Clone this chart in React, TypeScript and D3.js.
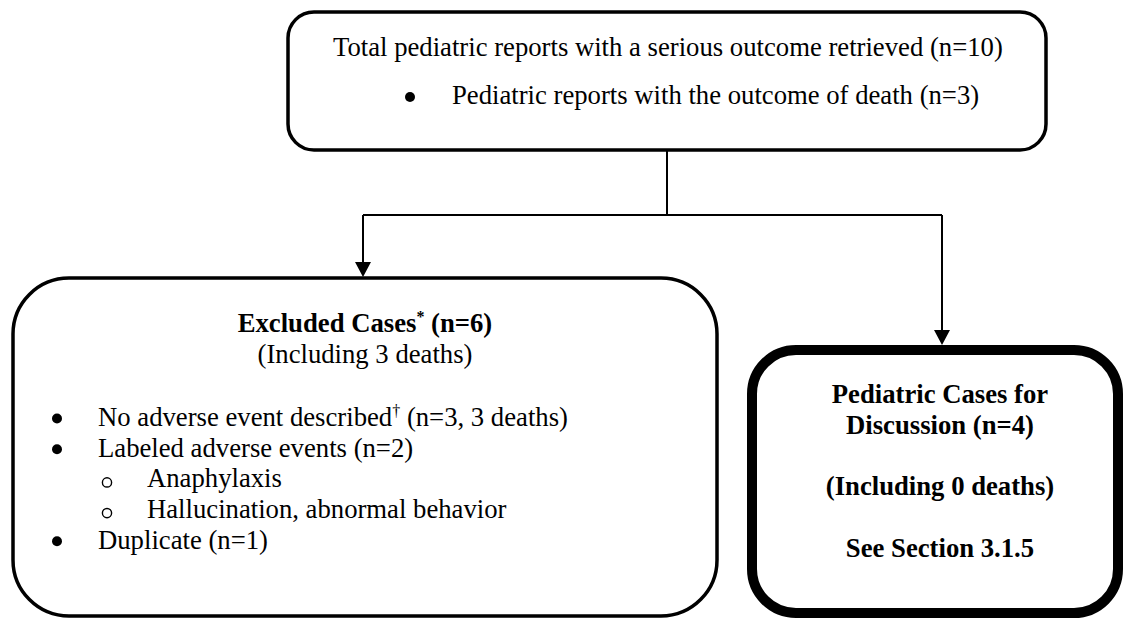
import React, { useEffect, useRef } from "react";
import * as d3 from "d3";

// flowchart content
const topLines = ["Total pediatric reports with a serious outcome retrieved (n=10)"];
const topBullets = ["Pediatric reports with the outcome of death (n=3)"];

const excludedHead = ["Excluded Cases", "*", " (n=6)"];
const excludedSub = ["(Including 3 deaths)"];
const excludedLevels = [1, 1, 2, 2, 1];
const excludedItems = [
  ["No adverse event described", "\u2020", " (n=3, 3 deaths)"],
  ["Labeled adverse events (n=2)"],
  ["Anaphylaxis"],
  ["Hallucination, abnormal behavior"],
  ["Duplicate (n=1)"],
];

const discussionLines = ["Pediatric Cases for", "Discussion (n=4)", "(Including 0 deaths)", "See Section 3.1.5"];
// line slots, blank lines between the paragraphs
const discussionRows = [0, 1, 3, 5];

const W = 1124;
const H = 619;
const FONT = "'Liberation Serif', 'Times New Roman', Times, serif";
const FS = 26.7;
const LH = 30.7;

const App: React.FC = () => {
  const svgRef = useRef<SVGSVGElement>(null);

  useEffect(() => {
    const svg = d3.select(svgRef.current);
    svg.selectAll("*").remove();

    svg.append("rect").attr("width", W).attr("height", H).attr("fill", "#fff");

    // boxes: top, excluded, discussion
    const boxes = [
      { x0: 288, y0: 12, x1: 1046, y1: 150, r: 26, sw: 3.5 },
      { x0: 13, y0: 278, x1: 717, y1: 616, r: 56, sw: 3.5 },
      { x0: 752, y0: 350, x1: 1118, y1: 613, r: 44, sw: 10 },
    ];

    svg.selectAll("rect.box")
      .data(boxes)
      .join("rect")
      .attr("class", "box")
      .attr("x", d => d.x0)
      .attr("y", d => d.y0)
      .attr("width", d => d.x1 - d.x0)
      .attr("height", d => d.y1 - d.y0)
      .attr("rx", d => d.r)
      .attr("ry", d => d.r)
      .attr("fill", "none")
      .attr("stroke", "#000")
      .attr("stroke-width", d => d.sw);

    // connectors
    const stemX = 667;
    const splitY = 215;
    const leftX = 363;
    const rightX = 942;
    const headH = 15;
    const headW = 8;

    const p = d3.path();
    p.moveTo(stemX, boxes[0].y1);
    p.lineTo(stemX, splitY);
    p.moveTo(leftX, splitY);
    p.lineTo(rightX, splitY);
    p.moveTo(leftX, splitY);
    p.lineTo(leftX, boxes[1].y0 - headH);
    p.moveTo(rightX, splitY);
    p.lineTo(rightX, boxes[2].y0 - 5 - headH);
    svg.append("path")
      .attr("d", p.toString())
      .attr("fill", "none")
      .attr("stroke", "#000")
      .attr("stroke-width", 2);

    const tips: [number, number][] = [
      [leftX, boxes[1].y0 - 1],
      [rightX, boxes[2].y0 - 5],
    ];
    tips.forEach(([tx, ty]) => {
      const a = d3.path();
      a.moveTo(tx, ty);
      a.lineTo(tx - headW, ty - headH);
      a.lineTo(tx + headW, ty - headH);
      a.closePath();
      svg.append("path").attr("d", a.toString()).attr("fill", "#000");
    });

    const addText = (
      x: number,
      y: number,
      parts: string[],
      anchor: string,
      weight: string
    ) => {
      const t = svg.append("text")
        .attr("x", x)
        .attr("y", y)
        .attr("text-anchor", anchor)
        .attr("font-family", FONT)
        .attr("font-size", FS)
        .attr("font-weight", weight)
        .attr("fill", "#000");
      t.append("tspan").text(parts[0]);
      if (parts.length > 1) {
        t.append("tspan")
          .attr("font-size", FS * 0.6)
          .attr("dy", -10)
          .text(parts[1]);
        t.append("tspan").attr("dy", 10).text(parts[2]);
      }
      return t;
    };

    // top box
    topLines.forEach((s, i) => addText(333, 56 + i * LH, [s], "start", "normal"));
    topBullets.forEach((s, i) => {
      const y = 104 + i * LH;
      svg.append("circle").attr("cx", 410).attr("cy", y - 7).attr("r", 5).attr("fill", "#000");
      addText(452, y, [s], "start", "normal");
    });

    // excluded box
    const exCx = 365;
    addText(exCx, 332, excludedHead, "middle", "bold");
    excludedSub.forEach((s, i) => addText(exCx, 363 + i * LH, [s], "middle", "normal"));

    const rowY = d3.scaleLinear().domain([0, 1]).range([426, 426 + LH]);
    excludedItems.forEach((parts, i) => {
      const y = rowY(i);
      if (excludedLevels[i] === 1) {
        svg.append("circle").attr("cx", 57).attr("cy", y - 7.5).attr("r", 5).attr("fill", "#000");
        addText(98, y, parts, "start", "normal");
      } else {
        svg.append("circle")
          .attr("cx", 107)
          .attr("cy", y - 5)
          .attr("r", 4.6)
          .attr("fill", "none")
          .attr("stroke", "#000")
          .attr("stroke-width", 1.4);
        addText(147, y, parts, "start", "normal");
      }
    });

    // discussion box
    const discY = d3.scaleLinear().domain([0, 1]).range([403, 403 + LH]);
    discussionLines.forEach((s, i) => addText(940, discY(discussionRows[i]), [s], "middle", "bold"));
  }, []);

  return (
    <svg
      ref={svgRef}
      width={W}
      height={H}
      style={{ position: "absolute", left: 0, top: 0, display: "block" }}
    ></svg>
  );
};

export default App;
